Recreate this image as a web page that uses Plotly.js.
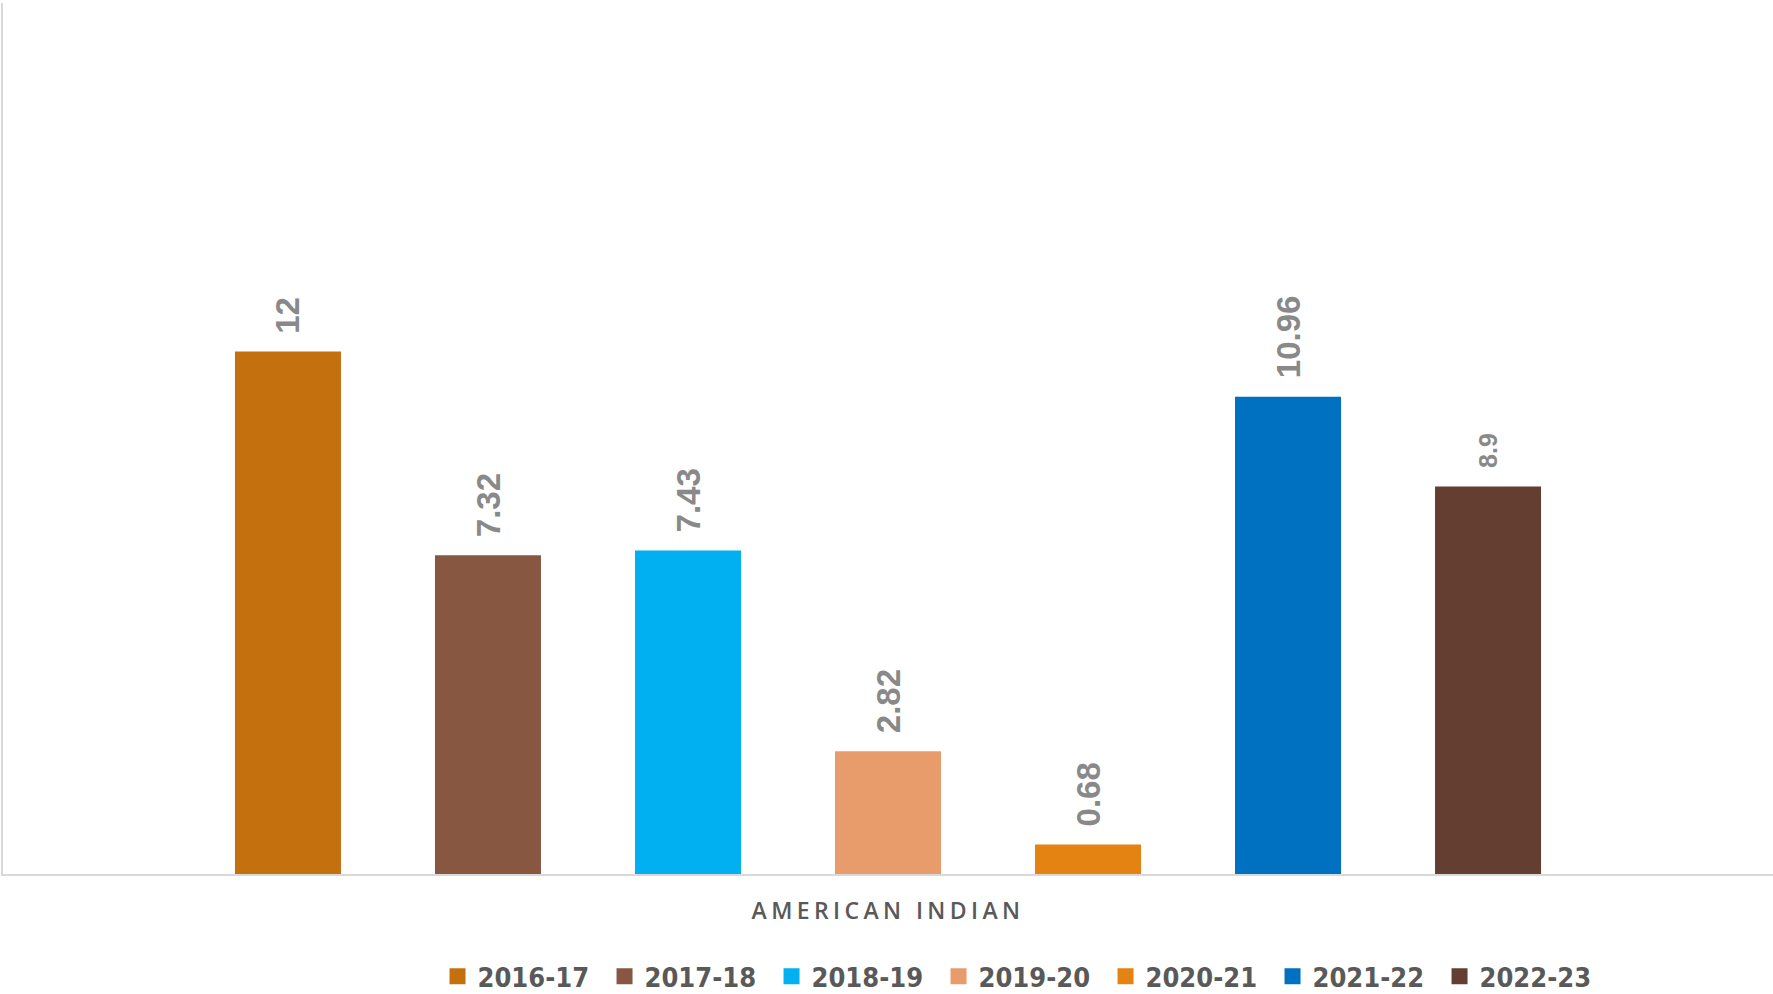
<!DOCTYPE html>
<html>
<head>
<meta charset="utf-8">
<script src="https://cdn.plot.ly/plotly-3.0.1.min.js"></script>
<style>
  html, body { margin: 0; padding: 0; background: #ffffff; }
  #chart { width: 1773px; height: 994px; }
  .xtick text { letter-spacing: 4.4px; }
</style>
</head>
<body>
<div id="chart"></div>
<script>
const category = ['AMERICAN INDIAN'];
const years = ['2016-17', '2017-18', '2018-19', '2019-20', '2020-21', '2021-22', '2022-23'];
const values = [12, 7.32, 7.43, 2.82, 0.68, 10.96, 8.9];
const colors = ['#C4700F', '#875742', '#00B0F0', '#E99C6B', '#E58312', '#0070C0', '#643F31'];
const labelSizes = [33, 33, 33, 33, 33, 33, 25];
const labelWeights = ['bold', 'bold', 'bold', 'bold', 'bold', 'bold', 600];

const bargap = 0.209;
const n = years.length;

const traces = years.map((yr, i) => ({
  type: 'bar',
  name: yr,
  x: category,
  y: [values[i]],
  marker: { color: colors[i] },
  hoverinfo: 'skip'
}));

const annotations = years.map((yr, i) => ({
  x: (i - (n - 1) / 2) * (1 - bargap) / n,
  y: values[i],
  xref: 'x', yref: 'y',
  text: String(values[i]),
  textangle: -90,
  showarrow: false,
  xanchor: 'center',
  yanchor: 'bottom',
  yshift: 16,
  font: { family: 'Liberation Sans, Arial, sans-serif', size: labelSizes[i], color: '#898989', weight: labelWeights[i] }
}));

const layout = {
  width: 1773,
  height: 994,
  paper_bgcolor: '#ffffff',
  plot_bgcolor: '#ffffff',
  margin: { l: 3, r: 0, t: 3, b: 120, pad: 0, autoexpand: false },
  barmode: 'group',
  bargap: bargap,
  bargroupgap: 0.47,
  showlegend: true,
  xaxis: {
    type: 'category',
    range: [-0.5, 0.5],
    showline: true, linecolor: '#d9d9d9', linewidth: 2,
    showgrid: false, zeroline: false, ticks: '',
    automargin: false,
    ticklabelstandoff: 15,
    tickfont: { family: 'Open Sans, sans-serif', size: 23, color: '#595959', weight: 600 }
  },
  yaxis: {
    range: [0, 20],
    showline: true, linecolor: '#d9d9d9', linewidth: 2,
    showgrid: false, zeroline: false, showticklabels: false, ticks: '',
    automargin: false
  },
  legend: {
    orientation: 'h',
    x: 0.2455, xanchor: 'left',
    y: -0.118, yanchor: 'middle',
    entrywidth: 122, entrywidthmode: 'pixels',
    font: { family: 'Liberation Sans Narrow, DejaVu Sans Condensed, Liberation Sans, sans-serif', size: 27, color: '#595959', weight: 'bold' },
    traceorder: 'normal'
  },
  annotations: annotations
};

Plotly.newPlot('chart', traces, layout, { displayModeBar: false, staticPlot: true }).then(gd => {
  gd.querySelectorAll('.legendpoints path').forEach(p => {
    p.setAttribute('d', 'M8,8H-8V-8H8Z');
  });
});
</script>
</body>
</html>
